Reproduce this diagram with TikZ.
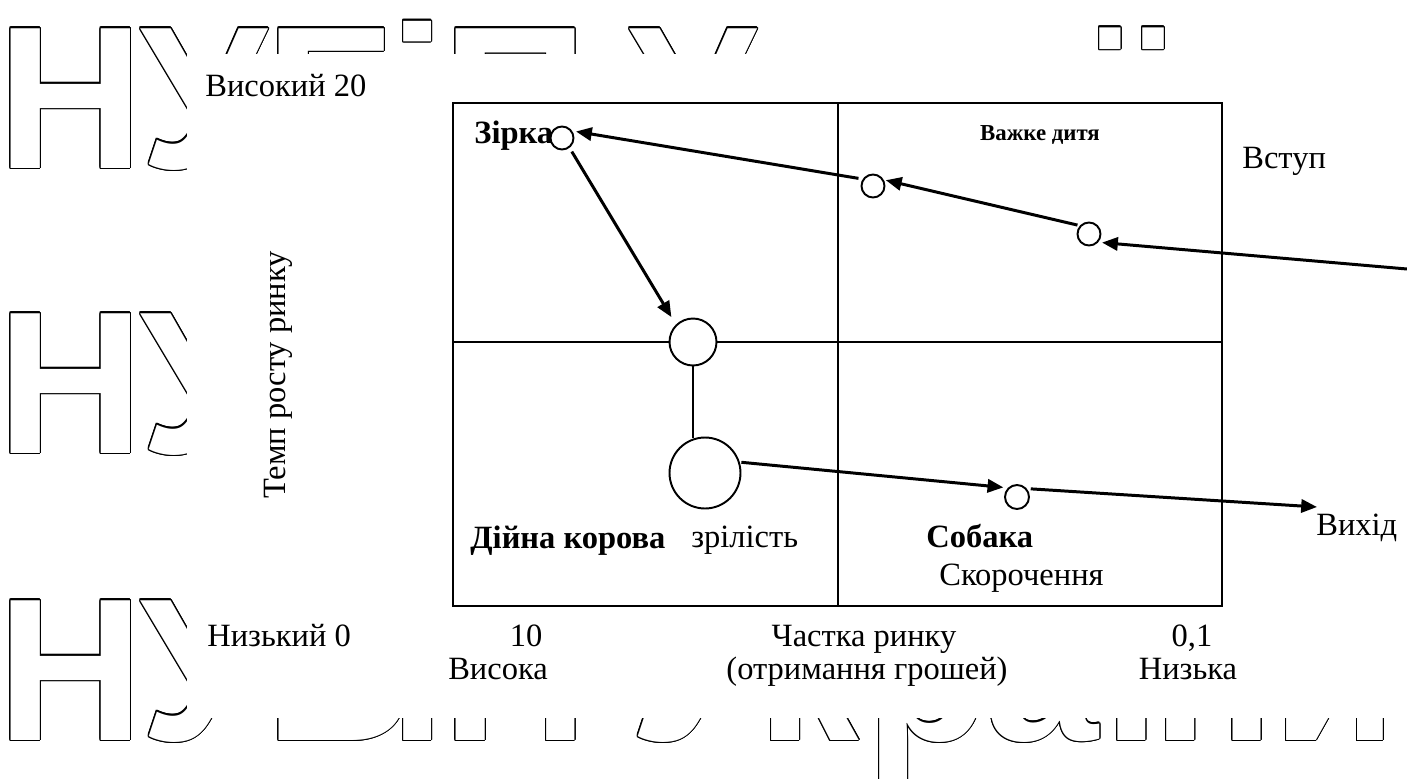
\documentclass[tikz,border=0pt]{standalone}
\usepackage{fontspec}
\setmainfont{Liberation Serif}[BoldFont={Liberation Serif Bold}]
\newfontfamily\wmfont{Liberation Sans}
\usetikzlibrary{arrows.meta}

\tikzset{
  lbl/.style={font=\rmfamily\fontsize{18.5}{21}\selectfont, inner sep=0pt},
  blbl/.style={font=\rmfamily\bfseries\fontsize{18.5}{21}\selectfont, inner sep=0pt},
  boxline/.style={line width=1.1pt},
  arr/.style={line width=1.7pt, -{Triangle[length=9pt,width=7.5pt]}},
  stage/.style={circle, draw, line width=1.1pt, fill=white, inner sep=0pt, outer sep=0pt},
  wmglyph/.style={font=\wmfont\bfseries\fontsize{115.6}{120}\selectfont, inner sep=0pt, anchor=base west}
}

\begin{document}
\begin{tikzpicture}[x=0.02cm, y=-0.02cm]
\useasboundingbox (0,0) rectangle (1407,778);
\fill[white] (0,0) rectangle (1407,778);

% background lettering, outlined
\foreach \row in {168,453,740}{
  \foreach \gx/\gl [count=\k] in {-3/Н,140/У,265/Б,389/і,442/П,629/У,757/к,865/р,985/а,1103/ї,1152/н,1272/и}{
    \foreach \a in {0,...,15}{
      \node[wmglyph, text=black] (wm-\row-\k-\a) at ([shift={(\a*22.5:0.72pt)}]\gx,\row) {\gl};
    }
    \node[wmglyph, text=white] (wm-\row-\k) at (\gx,\row) {\gl};
  }
}
\fill[white] (187,54) rectangle (1407,718);

% matrix frame
\draw[boxline] (453,103) rectangle (1222,606);
\draw[boxline] (838,103) -- (838,606);
\draw[boxline] (453,342) -- (1222,342);

% axis labels
\node[lbl, anchor=base west] (hi) at (205,96) {Високий 20};
\node[lbl, anchor=base west] (lo) at (207,646) {Низький 0};
\node[lbl, rotate=90] (yax) at (278,375) {Темп росту ринку};
\node[lbl, anchor=base] (x10) at (526,646) {10};
\node[lbl, anchor=base] (xlab) at (864,646) {Частка ринку};
\node[lbl, anchor=base] (x01) at (1192,646) {0,1};
\node[lbl, anchor=base] (xhi) at (498,679) {Висока};
\node[lbl, anchor=base] (xlab2) at (867,679) {(отримання грошей)};
\node[lbl, anchor=base] (xlo) at (1188,679) {Низька};

% quadrant and stage labels
\node[blbl, anchor=base west] (tstar) at (474,143) {Зірка};
\node[font=\rmfamily\bfseries\fontsize{13}{15}\selectfont, inner sep=0pt] (tchild) at (1040,135) {Важке дитя};
\node[lbl, anchor=base west] (tin) at (1242,168) {Вступ};
\node[blbl, anchor=base west] (tcow) at (470,548) {Дійна корова};
\node[lbl, anchor=base west] (tmat) at (691,547) {зрілість};
\node[blbl, anchor=base west] (tdog) at (926,547) {Собака};
\node[lbl, anchor=base west] (tcut) at (939,585) {Скорочення};
\node[lbl, anchor=base west] (tout) at (1316,535) {Вихід};

% life-cycle positions
\node[stage, minimum size=0.46cm] (zirka) at (562,138) {};
\node[stage, minimum size=0.46cm] (c2) at (873,186) {};
\node[stage, minimum size=0.46cm] (c3) at (1089,234) {};
\node[stage, minimum size=0.94cm] (cowtop) at (693,342) {};
\node[stage, minimum size=1.42cm] (cowbig) at (705,473) {};
\node[stage, minimum size=0.48cm] (dog) at (1017,497) {};

\coordinate (entry) at (1407,269);
\coordinate (exitpt) at (1317,507);

% movement between stages
\draw[arr, shorten >=2.8pt] (entry) -- (c3.-45);
\draw[arr, shorten <=2pt, shorten >=2pt] (c3.135) -- (c2.35);
\draw[arr, shorten <=3pt, shorten >=3pt] (c2.144) -- (zirka.40);
\draw[arr, shorten <=3pt, shorten >=5.5pt] (zirka.-52) -- (cowtop.135);
\draw[line width=0.8pt] (cowtop.south) -- (cowtop.south |- cowbig.north);
\draw[arr, shorten <=1.5pt, shorten >=3.3pt] (cowbig.18) -- (dog.131);
\draw[arr, shorten <=3pt] (dog.45) -- (exitpt);
\end{tikzpicture}
\end{document}
